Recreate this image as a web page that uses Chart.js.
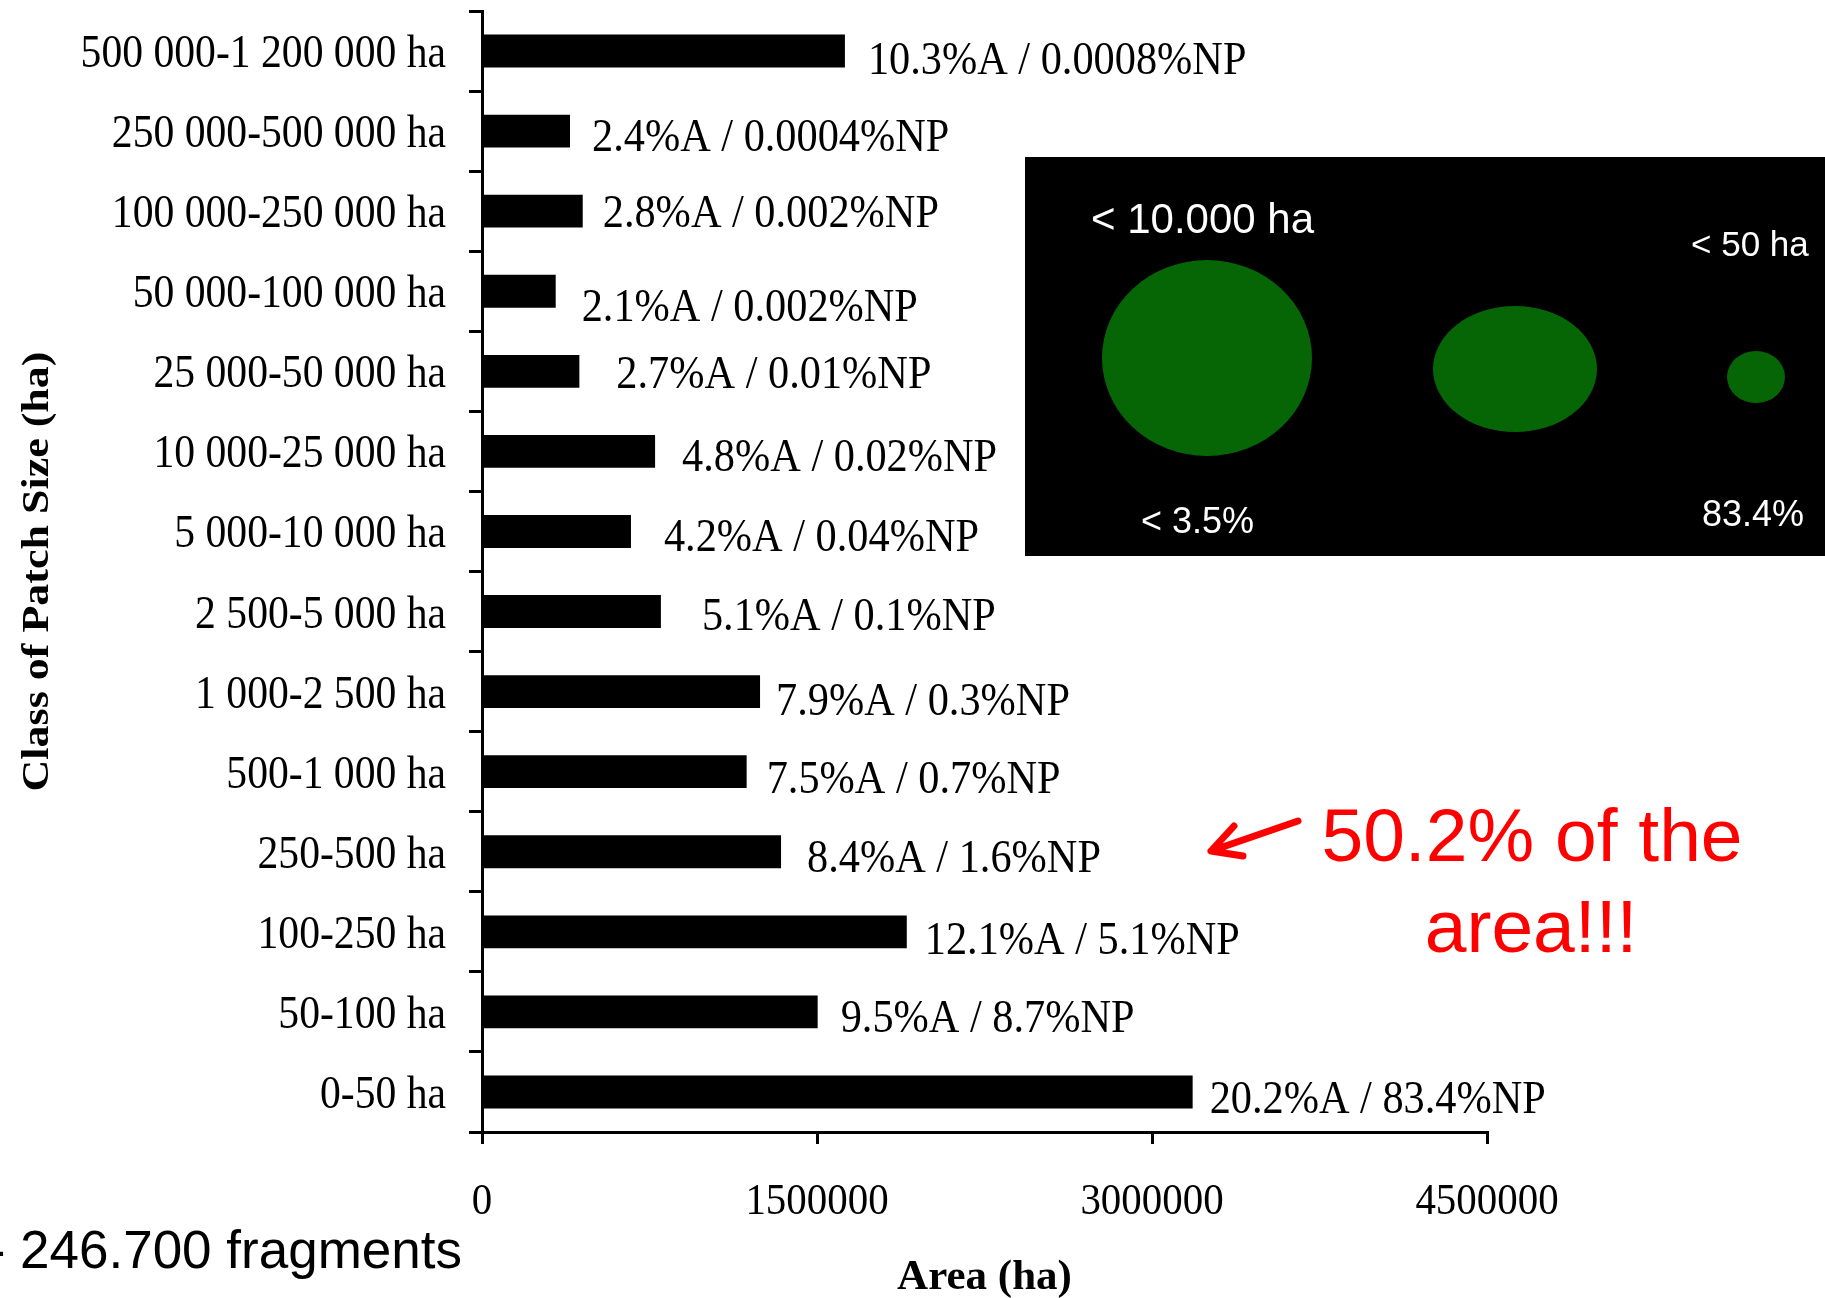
<!DOCTYPE html>
<html>
<head>
<meta charset="utf-8">
<title>Class of Patch Size</title>
<script src="https://cdn.jsdelivr.net/npm/chart.js@4/dist/chart.umd.min.js"></script>
<style>
  html, body { margin: 0; padding: 0; background: #fff; }
  #wrap { position: relative; width: 1825px; height: 1298px; overflow: hidden; }
  canvas { position: absolute; left: 0; top: 0; }
</style>
</head>
<body>
<div id="wrap"><canvas id="c" width="1825" height="1298"></canvas></div>
<script>
// Patch size classes, largest class at the top
const sizeClasses = [
  '500 000-1 200 000 ha', '250 000-500 000 ha', '100 000-250 000 ha', '50 000-100 000 ha',
  '25 000-50 000 ha', '10 000-25 000 ha', '5 000-10 000 ha', '2 500-5 000 ha',
  '1 000-2 500 ha', '500-1 000 ha', '250-500 ha', '100-250 ha', '50-100 ha', '0-50 ha'
];
// Total area of each class (ha)
const areaHa = [
  1625000, 394000, 451000, 330000,
  436000, 775000, 667000, 801000,
  1245000, 1185000, 1339000, 1902000, 1503000, 3182000
];
// Share of total area and share of number of patches (%)
const pctArea = ['10.3', '2.4', '2.8', '2.1', '2.7', '4.8', '4.2', '5.1', '7.9', '7.5', '8.4', '12.1', '9.5', '20.2'];
const pctPatches = ['0.0008', '0.0004', '0.002', '0.002', '0.01', '0.02', '0.04', '0.1', '0.3', '0.7', '1.6', '5.1', '8.7', '83.4'];
// Axis ticks (ha)
const xTicks = [0, 1500000, 3000000, 4500000];

// Small hand nudges of the value labels [dx, dy] in px
const labelShift = [
  [1, 3], [0, 0], [-2, -4], [4, 10], [15, -3], [5, 0], [11, 0],
  [19, -2], [-6, 3], [-2, 1], [4, 0], [-4, 2], [1, 0], [-5, 1]
];

const SERIF = '"Liberation Serif", "Times New Roman", serif';
const SANS = '"Liberation Sans", Arial, sans-serif';

function drawText(ctx, s, x, y, font, color, align, sx) {
  ctx.save();
  ctx.font = font;
  ctx.fillStyle = color;
  ctx.textAlign = align;
  ctx.textBaseline = 'alphabetic';
  ctx.translate(x, y);
  ctx.scale(sx || 1, 1);
  ctx.fillText(s, 0, 0);
  ctx.restore();
}

const textLayer = {
  id: 'textLayer',
  afterDraw(chart) {
    const ctx = chart.ctx;
    const xs = chart.scales.x, ys = chart.scales.y;
    const area = chart.chartArea;

    // category labels
    sizeClasses.forEach((s, i) => {
      const y = ys.getPixelForValue(i);
      drawText(ctx, s, area.left - 36, y + 16, '46px ' + SERIF, '#000', 'right', 0.905);
    });

    // value labels beside the bars
    areaHa.forEach((v, i) => {
      const x = xs.getPixelForValue(v) + 22 + labelShift[i][0];
      const y = ys.getPixelForValue(i) + 4 + labelShift[i][1];
      drawText(ctx, pctArea[i] + '%A / ' + pctPatches[i] + '%NP', x, y + 16, '46px ' + SERIF, '#000', 'left', 0.92);
    });

    // x tick labels
    xTicks.forEach(v => {
      drawText(ctx, String(v), xs.getPixelForValue(v), 1214, '44px ' + SERIF, '#000', 'center', 0.93);
    });

    // axis titles
    drawText(ctx, 'Area (ha)', (area.left + area.right) / 2, 1289, 'bold 43px ' + SERIF, '#000', 'center', 1);
    ctx.save();
    ctx.translate(48, (area.top + area.bottom) / 2);
    ctx.rotate(-Math.PI / 2);
    ctx.font = 'bold 38px ' + SERIF;
    const w = ctx.measureText('Class of Patch Size (ha)').width;
    ctx.scale(440 / w, 1);
    ctx.fillStyle = '#000';
    ctx.textAlign = 'center';
    ctx.textBaseline = 'alphabetic';
    ctx.fillText('Class of Patch Size (ha)', 0, 0);
    ctx.restore();

    // inset: patch size illustration
    ctx.save();
    ctx.fillStyle = '#000';
    ctx.fillRect(1025, 157, 800, 399);
    ctx.fillStyle = '#066606';
    [[1207, 358, 105, 98], [1515, 369, 82, 63], [1756, 377, 29, 26]].forEach(e => {
      ctx.beginPath();
      ctx.ellipse(e[0], e[1], e[2], e[3], 0, 0, Math.PI * 2);
      ctx.fill();
    });
    ctx.restore();
    drawText(ctx, '< 10.000 ha', 1091, 233, '42px ' + SANS, '#fff', 'left', 1);
    drawText(ctx, '< 50 ha', 1691, 256, '35px ' + SANS, '#fff', 'left', 1);
    drawText(ctx, '< 3.5%', 1141, 533, '36px ' + SANS, '#fff', 'left', 1);
    drawText(ctx, '83.4%', 1702, 526, '36px ' + SANS, '#fff', 'left', 1);

    // red callout
    ctx.save();
    ctx.strokeStyle = '#ff0000';
    ctx.lineWidth = 7;
    ctx.lineCap = 'round';
    ctx.lineJoin = 'round';
    ctx.beginPath();
    ctx.moveTo(1298, 821); ctx.lineTo(1211, 851);
    ctx.moveTo(1234, 826); ctx.lineTo(1211, 851); ctx.lineTo(1243, 856);
    ctx.stroke();
    ctx.restore();
    drawText(ctx, '50.2% of the', 1532, 861, '75px ' + SANS, '#ff0000', 'center', 1);
    drawText(ctx, 'area!!!', 1531, 952, '75px ' + SANS, '#ff0000', 'center', 1);

    // fragment count
    ctx.save();
    ctx.font = '53px ' + SANS;
    const pre = ctx.measureText('- ').width;
    ctx.restore();
    drawText(ctx, '- 246.700 fragments', 20 - pre, 1268, '53px ' + SANS, '#000', 'left', 1);
  }
};

new Chart(document.getElementById('c'), {
  type: 'bar',
  data: {
    labels: sizeClasses,
    datasets: [{
      data: areaHa,
      backgroundColor: '#000',
      borderWidth: 0,
      barPercentage: 0.41,
      categoryPercentage: 1.0
    }]
  },
  options: {
    indexAxis: 'y',
    responsive: false,
    animation: false,
    events: [],
    layout: { padding: { left: 469, right: 338, top: 11, bottom: 154 } },
    plugins: { legend: { display: false }, tooltip: { enabled: false } },
    scales: {
      x: {
        min: 0, max: 4500000,
        afterBuildTicks: s => { s.ticks = xTicks.map(v => ({ value: v })); },
        ticks: { display: false },
        grid: { display: true, drawOnChartArea: false, drawTicks: true, tickLength: 12, lineWidth: 3, color: '#000' },
        border: { display: true, width: 3, color: '#000' }
      },
      y: {
        ticks: { display: false },
        grid: { display: true, offset: true, drawOnChartArea: false, drawTicks: true, tickLength: 13, lineWidth: 3, color: '#000' },
        border: { display: true, width: 3, color: '#000' }
      }
    }
  },
  plugins: [textLayer]
});
</script>
</body>
</html>
